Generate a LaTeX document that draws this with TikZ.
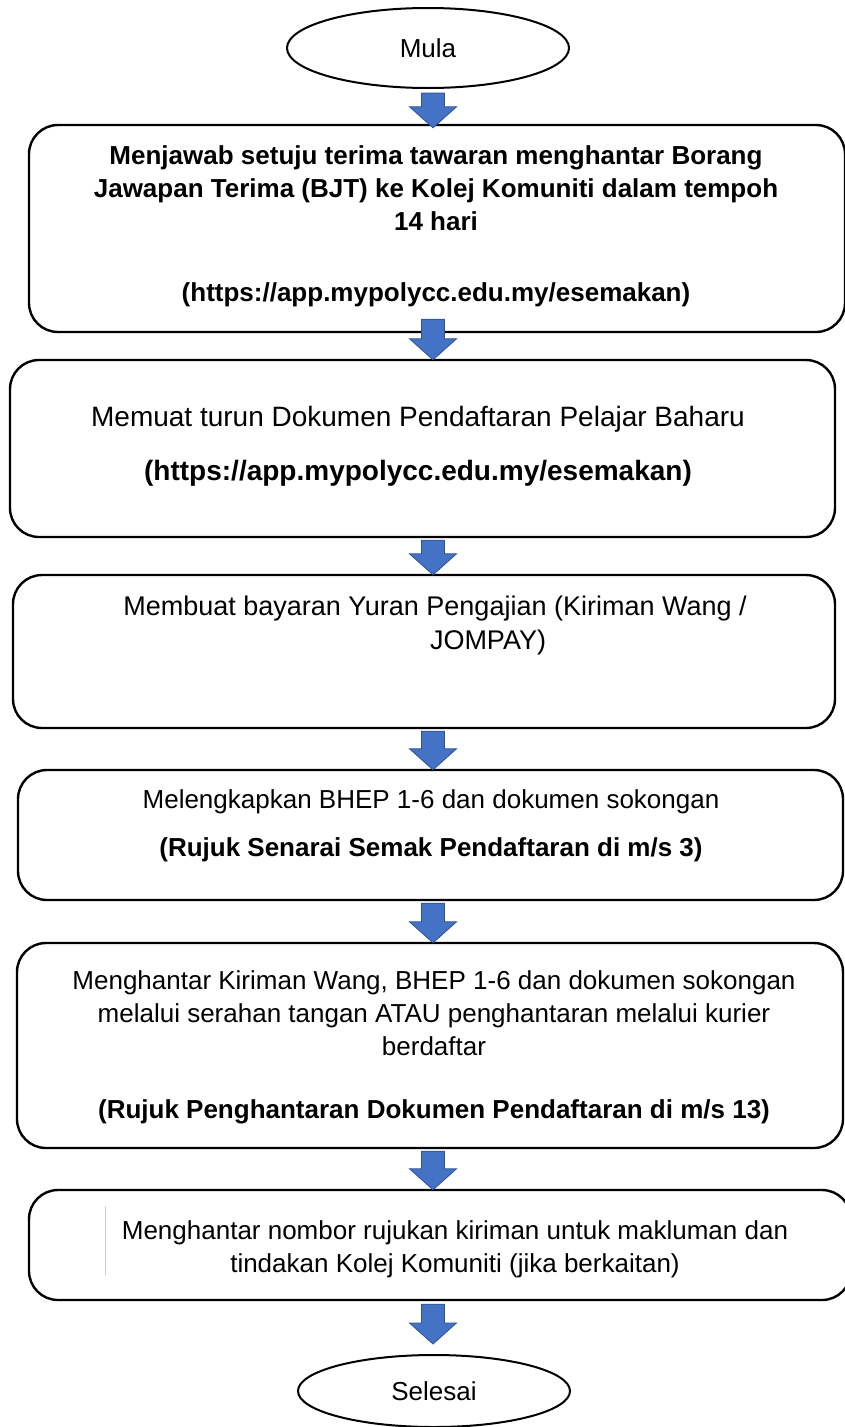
\documentclass[tikz,border=0pt]{standalone}
\usepackage{fontspec}
\setmainfont{Liberation Sans}
\usetikzlibrary{calc,shapes.geometric}
\definecolor{arrowfill}{HTML}{4472C4}
\definecolor{arrowline}{HTML}{2F528F}
\tikzset{
  box/.style={draw, line width=2.4pt, rounded corners=29pt, inner sep=0pt},
  oval/.style={draw, ellipse, line width=2pt, inner sep=0pt, font=\fontsize{26}{33}\selectfont},
  txt/.style={align=center, font=\fontsize{26}{33}\selectfont, inner sep=0pt},
  blockarrow/.style={fill=arrowfill, draw=arrowline, line width=0.8pt, line join=miter},
}
% block arrow from node #1 to node #2; #3 = start offset (pt above source south),
% #4 = tip offset (pt above target north)
\newcommand\flowarrow[4]{%
  \path[blockarrow] let \p1=(#1.south), \p2=(#2.north) in
    (421.5pt,{\y1+#3}) -- (444.5pt,{\y1+#3}) -- (444.5pt,{\y2+#4+21pt}) --
    (456.5pt,{\y2+#4+21pt}) -- (433pt,{\y2+#4}) -- (409.5pt,{\y2+#4+21pt}) --
    (421.5pt,{\y2+#4+21pt}) -- cycle;}
\begin{document}
\begin{tikzpicture}[x=1pt,y=-1pt]
\useasboundingbox[fill=white] (0,0) rectangle (845,1427);

\node[oval, minimum width=282pt, minimum height=80pt] (start) at (428,48) {Mula};

\node[box, minimum width=816pt, minimum height=207pt] (b1) at (437,228.5) {};
\node[txt, font=\fontsize{26}{33}\selectfont\bfseries] (t1) at (436,226)
  {Menjawab setuju terima tawaran menghantar Borang\\
   Jawapan Terima (BJT) ke Kolej Komuniti dalam tempoh\\
   14 hari\\[38pt]
   (https://app.mypolycc.edu.my/esemakan)};

\node[box, minimum width=825pt, minimum height=177pt] (b2) at (422.5,448.5) {};
\node[txt, font=\fontsize{28}{35}\selectfont] (t2) at (418,446)
  {Memuat turun Dokumen Pendaftaran Pelajar Baharu\\[19pt]
   \textbf{(https://app.mypolycc.edu.my/esemakan)}};

\node[box, minimum width=822pt, minimum height=153pt] (b3) at (424,651.5) {};
\node[txt, font=\fontsize{27}{34}\selectfont] (t3) at (435,626)
  {Membuat bayaran Yuran Pengajian (Kiriman Wang /\\
   \hspace*{106pt}JOMPAY)};

\node[box, minimum width=825pt, minimum height=130pt] (b4) at (430.5,835) {};
\node[txt] (t4) at (431,826)
  {Melengkapkan BHEP 1-6 dan dokumen sokongan\\[15pt]
   \textbf{(Rujuk Senarai Semak Pendaftaran di m/s 3)}};

\node[box, minimum width=826pt, minimum height=205pt] (b5) at (430,1045.5) {};
\node[txt] (t5) at (434,1047)
  {Menghantar Kiriman Wang, BHEP 1-6 dan dokumen sokongan\\
   melalui serahan tangan ATAU penghantaran melalui kurier\\
   berdaftar\\[30pt]
   \textbf{(Rujuk Penghantaran Dokumen Pendaftaran di m/s 13)}};

\node[box, minimum width=822pt, minimum height=110pt] (b6) at (440,1245) {};
\node[txt] (t6) at (455,1249)
  {Menghantar nombor rujukan kiriman untuk makluman dan\\
   tindakan Kolej Komuniti (jika berkaitan)};
\draw[black!18, line width=1pt] (105,1206) -- (105,1276);

\node[oval, minimum width=272pt, minimum height=72pt] (end) at (434,1391) {Selesai};

\flowarrow{start}{b1}{-4pt}{-4pt}
\flowarrow{b1}{b2}{14pt}{-1pt}
\flowarrow{b2}{b3}{-2pt}{-1pt}
\flowarrow{b3}{b4}{-2pt}{-1pt}
\flowarrow{b4}{b5}{-2pt}{-1pt}
\flowarrow{b5}{b6}{-2pt}{-1pt}
\flowarrow{b6}{end}{-3pt}{10pt}
\end{tikzpicture}
\end{document}
